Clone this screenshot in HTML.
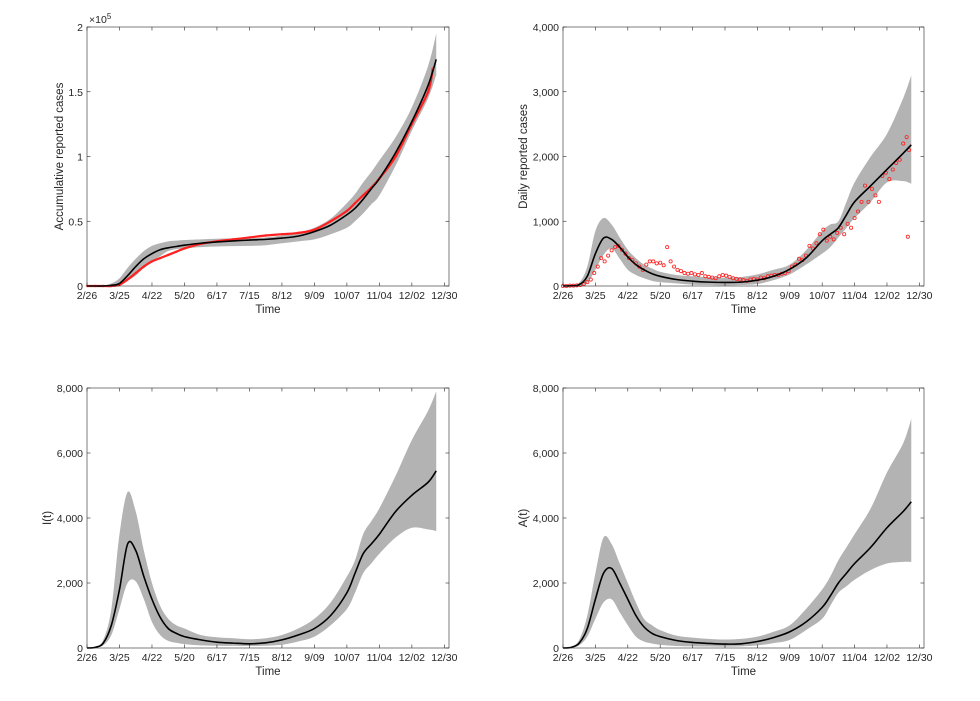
<!DOCTYPE html>
<html><head><meta charset="utf-8"><style>
body{margin:0;background:#fff;}
svg text{font-family:"Liberation Sans",Arial,sans-serif;fill:#262626;}
</style></head><body>
<svg id="fig" width="980" height="696" viewBox="0 0 980 696" xmlns="http://www.w3.org/2000/svg"></svg>
<script>
const days = [0,7,14,21,28,35,42,49,56,63,70,77,84,98,112,126,140,154,168,182,196,210,224,231,238,245,252,266,280,294,301];
const xTickDays = [0,28,56,84,112,140,168,196,224,252,280,308];
const xTickLabels = ["2/26","3/25","4/22","5/20","6/17","7/15","8/12","9/09","10/07","11/04","12/02","12/30"];

const cumMean = [0,0,0,0.5,2,8,15,21,25,28,29.5,30.5,31.5,33,34,34.8,35.5,36,37,38.5,42,47,55,60,67,75,83,103,127,155,175];
const cumHi = [0,0,0,2,6,14,21,27,31,33,34.5,35,35.5,36,36.5,36.8,37,37.5,39,41,45,52,64,71,80,88,97,115,138,170,195];
const cumLo = [0,0,0,0,0.5,4,8,14,19,23,27,28.5,29,30,30.5,30.8,31,31.5,33,34.5,36,40,45,50,56,63,70,93,120,145,163];
const cumObsDays = [0,7,14,21,28,35,42,49,56,63,70,77,84,98,112,126,140,154,168,182,196,210,224,231,238,245,252,266,280,294,298];
const cumObs = [0,0,0,0,1,5,10,15,19,21.5,24,26.5,29,32.5,34.5,36,37.5,39,40,41,43.5,50,58,64,70,76,83,100,125,150,168];

const dailyMean = [0,5,20,150,500,740,720,600,450,330,250,190,150,100,75,60,55,60,90,150,260,430,700,800,900,1100,1300,1550,1800,2050,2180];
const dailyHi = [0,10,50,300,850,1050,950,750,560,430,330,270,220,170,150,135,130,140,180,250,330,550,850,950,1000,1300,1600,2000,2350,2900,3250];
const dailyLo = [0,0,5,50,250,480,580,420,250,170,120,80,60,40,20,15,10,15,30,90,180,330,500,600,750,900,1050,1300,1600,1620,1580];
const dailyObsDays = [0,3,6,9,12,15,18,21,24,27,30,33,36,39,42,45,48,51,54,57,60,63,66,69,72,75,78,81,84,87,90,93,96,99,102,105,108,111,114,117,120,123,126,129,132,135,138,141,144,147,150,153,156,159,162,165,168,171,174,177,180,183,186,189,192,195,198,201,204,207,210,213,216,219,222,225,228,231,234,237,240,243,246,249,252,255,258,261,264,267,270,273,276,279,282,285,288,291,294,297,299,298];
const dailyObs = [0,0,5,5,10,15,30,60,100,200,300,430,380,470,550,600,620,560,500,430,400,350,300,250,330,380,380,350,360,320,600,380,300,250,230,200,190,200,180,170,200,150,140,130,120,150,170,160,140,120,110,100,90,80,100,110,100,130,120,150,160,170,170,190,200,230,300,330,420,400,470,620,580,660,800,870,700,760,720,820,900,800,960,900,1050,1150,1300,1550,1300,1500,1400,1300,1700,1750,1650,1800,1900,1950,2200,2300,2100,760];

const iMean = [0,20,150,700,1800,3200,3000,2200,1500,950,600,450,350,250,180,150,130,160,250,400,600,1000,1700,2300,2900,3200,3500,4200,4700,5100,5450];
const iHi = [0,40,250,1200,3500,4800,4200,3000,2000,1300,900,700,600,400,330,300,270,300,400,600,900,1400,2200,2700,3500,3900,4300,5300,6400,7300,7900];
const iLo = [0,10,80,400,1200,2000,2050,1500,800,400,220,160,120,80,70,65,60,70,100,200,350,700,1200,1700,2300,2600,2900,3400,3700,3650,3600];

const aMean = [0,20,150,600,1500,2300,2450,2000,1500,1000,650,450,350,230,170,140,120,130,200,320,500,800,1250,1600,2000,2300,2600,3100,3700,4200,4500];
const aHi = [0,40,250,1000,2300,3400,3200,2600,2000,1400,900,700,550,380,320,280,260,280,350,500,700,1200,1800,2200,2700,3100,3500,4300,5400,6300,7050];
const aLo = [0,10,80,350,900,1400,1500,1100,700,350,200,140,100,60,50,45,40,50,80,150,250,550,900,1300,1700,1900,2100,2400,2600,2650,2650];

const cumTicks = [0,50,100,150,200], cumTickLabels = ["0","0.5","1","1.5","2"];
const k4Ticks = [0,1000,2000,3000,4000], k4Labels = ["0","1,000","2,000","3,000","4,000"];
const k8Ticks = [0,2000,4000,6000,8000], k8Labels = ["0","2,000","4,000","6,000","8,000"];

const NS = "http://www.w3.org/2000/svg";
const svg = document.getElementById('fig');
function mk(tag, attrs, parent){const e=document.createElementNS(NS,tag);for(const k in attrs)e.setAttribute(k,attrs[k]);(parent||svg).appendChild(e);return e;}
function smooth(pts){
  let d="M"+pts[0][0].toFixed(2)+","+pts[0][1].toFixed(2);
  for(let i=0;i<pts.length-1;i++){
    const p0=pts[Math.max(0,i-1)],p1=pts[i],p2=pts[i+1],p3=pts[Math.min(pts.length-1,i+2)];
    const c1=[p1[0]+(p2[0]-p0[0])/6,p1[1]+(p2[1]-p0[1])/6],c2=[p2[0]-(p3[0]-p1[0])/6,p2[1]-(p3[1]-p1[1])/6];
    d+=" C"+c1[0].toFixed(2)+","+c1[1].toFixed(2)+" "+c2[0].toFixed(2)+","+c2[1].toFixed(2)+" "+p2[0].toFixed(2)+","+p2[1].toFixed(2);
  }
  return d;
}
function panel(cfg){
  const g=mk('g',{});
  
  
  const L=cfg.x0,R=cfg.x1,T=cfg.y0,B=cfg.y1;
  const xs=d=>L+(d/312)*(R-L);
  const ys=v=>B-(v/cfg.ymax)*(B-T);
  const hiPts=days.map((d,i)=>[xs(d),ys(cfg.hi[i])]);
  const loPts=days.map((d,i)=>[xs(d),ys(cfg.lo[i])]).reverse();
  const band=mk('path',{d:smooth(hiPts)+" L"+smooth(loPts).slice(1)+" Z",fill:"#b3b3b3",stroke:"none"},g);
  
  
  if(cfg.obs){
    const og=mk('g',{},g);
    
    
    if(cfg.obsLine){
      mk('path',{d:smooth(cfg.obsDays.map((d,i)=>[xs(d),ys(cfg.obs[i])])),fill:"none",stroke:"#ff2020","stroke-width":2.2},og);
    }
    cfg.obsDays.forEach((d,i)=>{
      const c=mk('circle',{cx:xs(d),cy:ys(cfg.obs[i]),r:cfg.obsLine?1:1.6,fill:"none",stroke:"#ff2020","stroke-width":cfg.obsLine?0.5:0.8},og);
      
      
    });
  }
  const ml=mk('path',{d:smooth(days.map((d,i)=>[xs(d),ys(cfg.mean[i])])),fill:"none",stroke:"#000","stroke-width":1.6},g);
  
  
  const box=mk('rect',{x:L,y:T,width:R-L,height:B-T,fill:"none",stroke:"#262626","stroke-width":0.6},g);
  
  
  xTickDays.forEach((d,i)=>{
    const x=xs(d);
    mk('line',{x1:x,y1:B,x2:x,y2:B-3.5,stroke:"#262626","stroke-width":0.6},g);
    mk('line',{x1:x,y1:T,x2:x,y2:T+3.5,stroke:"#262626","stroke-width":0.6},g);
    const t=mk('text',{x:x,y:B+13,"font-size":10.5,"text-anchor":"middle"},g);t.textContent=xTickLabels[i];
    
    
  });
  cfg.ticks.forEach((v,i)=>{
    const y=ys(v);
    mk('line',{x1:L,y1:y,x2:L+3.5,y2:y,stroke:"#262626","stroke-width":0.6},g);
    mk('line',{x1:R,y1:y,x2:R-3.5,y2:y,stroke:"#262626","stroke-width":0.6},g);
    const t=mk('text',{x:L-4,y:y+4,"font-size":10.5,"text-anchor":"end"},g);t.textContent=cfg.tickLabels[i];
    
    
  });
  const xl=mk('text',{x:(L+R)/2,y:B+27,"font-size":11.5,"text-anchor":"middle"},g);xl.textContent="Time";
  
  
  const yl=mk('text',{x:0,y:0,"font-size":11.5,"text-anchor":"middle",transform:`translate(${cfg.ylx},${(T+B)/2}) rotate(-90)`},g);yl.textContent=cfg.ylabel;
  
  
  if(cfg.exp){
    const e=mk('text',{x:L+2,y:T-4,"font-size":10.5},g);
    e.innerHTML='×10<tspan dy="-4" font-size="8">5</tspan>';
    
    
  }
}
panel({name:"cumulative-cases-panel",x0:87,x1:449,y0:27,y1:286,ymax:200,mean:cumMean,hi:cumHi,lo:cumLo,obs:cumObs,obsDays:cumObsDays,obsLine:true,ticks:cumTicks,tickLabels:cumTickLabels,ylabel:"Accumulative reported cases",ylx:63,exp:true});
panel({name:"daily-cases-panel",x0:563,x1:924,y0:27,y1:286,ymax:4000,mean:dailyMean,hi:dailyHi,lo:dailyLo,obs:dailyObs,obsDays:dailyObsDays,obsLine:false,ticks:k4Ticks,tickLabels:k4Labels,ylabel:"Daily reported cases",ylx:527});
panel({name:"infected-panel",x0:87,x1:449,y0:388,y1:648,ymax:8000,mean:iMean,hi:iHi,lo:iLo,ticks:k8Ticks,tickLabels:k8Labels,ylabel:"I(t)",ylx:51});
panel({name:"asymptomatic-panel",x0:563,x1:924,y0:388,y1:648,ymax:8000,mean:aMean,hi:aHi,lo:aLo,ticks:k8Ticks,tickLabels:k8Labels,ylabel:"A(t)",ylx:527});
</script>
</body></html>
